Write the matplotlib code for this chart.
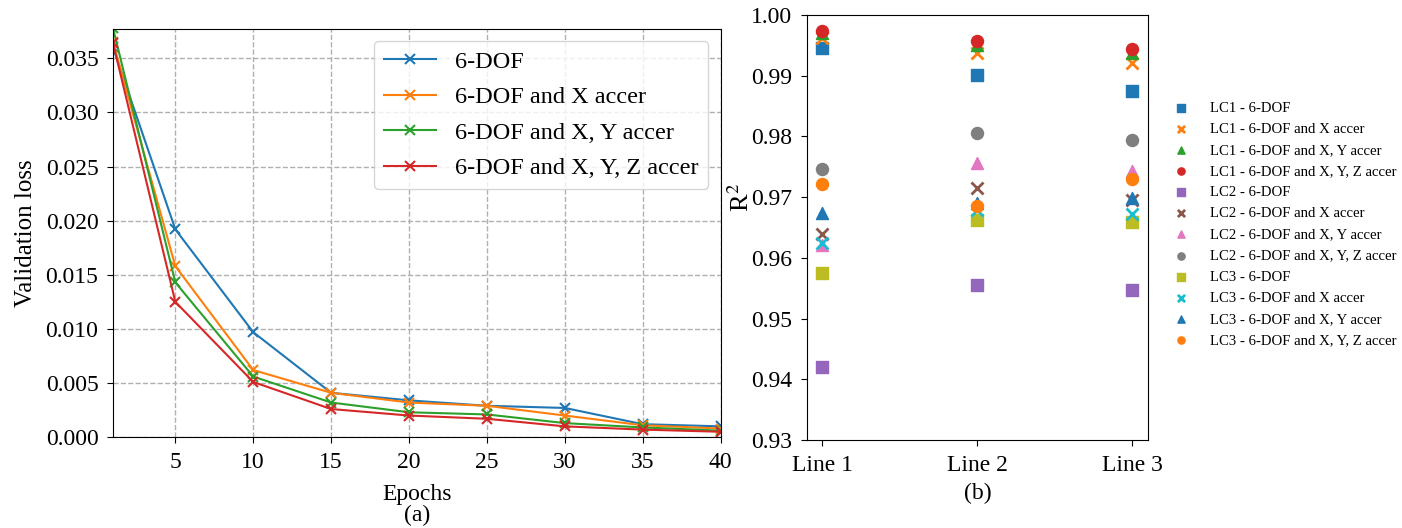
import matplotlib
matplotlib.use("Agg")
import matplotlib.pyplot as plt

plt.rcParams['font.family'] = ['Liberation Serif', 'DejaVu Serif']
plt.rcParams['mathtext.fontset'] = 'stix'

epochs = [1, 5, 10, 15, 20, 25, 30, 35, 40]
loss_labels = ["6-DOF", "6-DOF and X accer", "6-DOF and X, Y accer", "6-DOF and X, Y, Z accer"]
loss_6dof = [0.0360, 0.0192, 0.0097, 0.0041, 0.0034, 0.0029, 0.0027, 0.0012, 0.0010]
loss_x = [0.0365, 0.0158, 0.0062, 0.0041, 0.0032, 0.0029, 0.0020, 0.0011, 0.0008]
loss_xy = [0.0378, 0.0143, 0.0056, 0.0032, 0.0023, 0.0021, 0.0013, 0.0009, 0.0006]
loss_xyz = [0.0364, 0.0125, 0.0051, 0.0026, 0.0020, 0.0017, 0.0010, 0.0007, 0.0005]

lines_cat = ["Line 1", "Line 2", "Line 3"]
r2_labels = [
    "LC1 - 6-DOF", "LC1 - 6-DOF and X accer", "LC1 - 6-DOF and X, Y accer", "LC1 - 6-DOF and X, Y, Z accer",
    "LC2 - 6-DOF", "LC2 - 6-DOF and X accer", "LC2 - 6-DOF and X, Y accer", "LC2 - 6-DOF and X, Y, Z accer",
    "LC3 - 6-DOF", "LC3 - 6-DOF and X accer", "LC3 - 6-DOF and X, Y accer", "LC3 - 6-DOF and X, Y, Z accer",
]
r2_values = [
    [0.9945, 0.9901, 0.9875],
    [0.9962, 0.9938, 0.9921],
    [0.9970, 0.9951, 0.9937],
    [0.9973, 0.9957, 0.9944],
    [0.9421, 0.9555, 0.9547],
    [0.9640, 0.9715, 0.9695],
    [0.9621, 0.9757, 0.9743],
    [0.9747, 0.9806, 0.9794],
    [0.9575, 0.9662, 0.9659],
    [0.9625, 0.9679, 0.9673],
    [0.9674, 0.9690, 0.9698],
    [0.9721, 0.9685, 0.9730],
]
r2_markers = ['s', 'x', '^', 'o'] * 3

fig = plt.figure(figsize=(14.02, 5.28), dpi=100)
ax1 = fig.add_axes([0.0806, 0.172, 0.4334, 0.773])
ax2 = fig.add_axes([0.5756, 0.1667, 0.2432, 0.8049])

for vals, lab in zip([loss_6dof, loss_x, loss_xy, loss_xyz], loss_labels):
    ax1.plot(epochs, vals, marker='x', markersize=7, markeredgewidth=1.5, linewidth=1.5, label=lab)
ax1.set_xlim(1, 40)
ax1.set_ylim(0, 0.0377)
ax1.set_xticks([5, 10, 15, 20, 25, 30, 35, 40])
ax1.set_yticks([0, 0.005, 0.010, 0.015, 0.020, 0.025, 0.030, 0.035])
ax1.set_yticklabels(["0.000", "0.005", "0.010", "0.015", "0.020", "0.025", "0.030", "0.035"])
ax1.grid(True, linestyle='--', color='#b0b0b0', linewidth=1.0)
ax1.tick_params(labelsize=17, length=4.5, pad=6)
ax1.set_xlabel("Epochs\n(a)", fontsize=17, linespacing=1.0, labelpad=8)
ax1.set_ylabel("Validation loss", fontsize=18, labelpad=6)
ax1.legend(fontsize=17.5, loc='upper right', handlelength=2.15, handletextpad=0.8, labelspacing=0.55)

colors = plt.rcParams['axes.prop_cycle'].by_key()['color']
xs = list(range(len(lines_cat)))
for i, (vals, lab, m) in enumerate(zip(r2_values, r2_labels, r2_markers)):
    c = colors[i % 10]
    if m == 'x':
        ax2.scatter(xs, vals, marker=m, s=75, color=c, linewidths=2, label=lab)
    else:
        ax2.scatter(xs, vals, marker=m, s=75, color=c, label=lab)
ax2.set_xticks(xs)
ax2.set_xticklabels(lines_cat)
ax2.set_xlim(-0.1, 2.1)
ax2.set_ylim(0.93, 1.00)
ax2.set_yticks([0.93, 0.94, 0.95, 0.96, 0.97, 0.98, 0.99, 1.00])
ax2.set_yticklabels(["0.93", "0.94", "0.95", "0.96", "0.97", "0.98", "0.99", "1.00"])
ax2.tick_params(labelsize=17, length=4.5, pad=6)
ax2.set_xlabel("(b)", fontsize=17, labelpad=5)
ax2.set_ylabel("R$^2$", fontsize=19)
ax2.yaxis.set_label_coords(-0.155, 0.57)
ax2.legend(fontsize=10.6, loc='center left', bbox_to_anchor=(1.015, 0.508), frameon=False,
           markerscale=0.6, labelspacing=0.53, handletextpad=1.0)

fig.savefig("out.png", dpi=100)
